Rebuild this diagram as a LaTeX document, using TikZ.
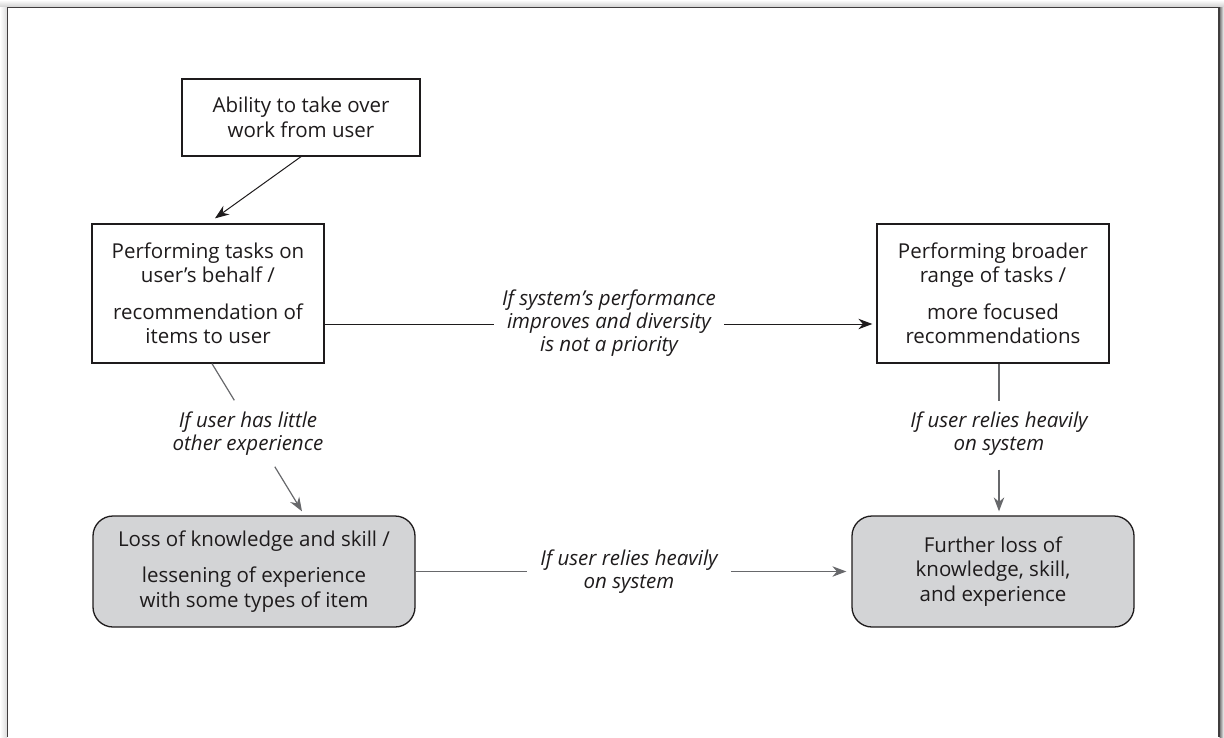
\documentclass[tikz,border=0pt]{standalone}
\usepackage{fontspec}
\setmainfont{Open Sans}
\usetikzlibrary{arrows.meta,calc}
\definecolor{ink}{HTML}{1E1B1C}
\definecolor{wire}{HTML}{67686B}
\definecolor{boxgray}{HTML}{D3D4D6}
\begin{document}
\begin{tikzpicture}[x=1pt,y=-1pt,
  every node/.style={text=ink, font=\fontsize{20.5}{24.5}\selectfont},
  plainbox/.style={draw=ink, line width=1.3pt, fill=white, align=center, inner sep=0pt},
  lossbox/.style={draw=ink, line width=1.3pt, fill=boxgray, rounded corners=20pt, align=center, inner sep=0pt},
  cond/.style={font=\fontsize{20.5}{23}\selectfont\itshape, align=center, inner xsep=8pt, inner ysep=0pt},
  link/.style={draw=ink, line width=1pt},
  softlink/.style={draw=wire, line width=1.2pt},
  tip/.style={-{Stealth[length=14pt,width=10.5pt]}}
]
\useasboundingbox (0,0) rectangle (1224,737);

% page frame with a soft drop shadow
\shade[top color=white, bottom color=black!18] (0,0) rectangle (1224,7);
\shade[left color=white, right color=black!14] (0,7) rectangle (7,737);
\shade[left color=black!55, right color=white] (1219.5,7) rectangle (1224,737);
\draw[ink!85, line width=1.3pt] (7.5,737) -- (7.5,7.5) -- (1219,7.5) -- (1219,737);

% boxes
\node[plainbox, minimum width=238pt, minimum height=77pt] (ability) at (301,117.5)
  {Ability to take over\\work from user};
\node[plainbox, minimum width=232pt, minimum height=139pt] (perf) at (208,293.5)
  {Performing tasks on\\user’s behalf /\\[12pt]recommendation of\\items to user};
\node[plainbox, minimum width=232pt, minimum height=139pt] (broad) at (993,293.5)
  {Performing broader\\range of tasks /\\[12pt]more focused\\recommendations};
\node[lossbox, minimum width=322pt, minimum height=111pt] (loss) at (254,571.5)
  {Loss of knowledge and skill /\\[12pt]lessening of experience\\with some types of item};
\node[lossbox, minimum width=282pt, minimum height=111pt] (further) at (993,571.5)
  {Further loss of\\knowledge, skill,\\and experience};

% condition labels
\node[cond] (condA) at (609,323.5) {If system’s performance\\improves and diversity\\is not a priority};
\node[cond] (condB) at (248,434) {If user has little\\other experience};
\node[cond] (condC) at (999,433.5) {If user relies heavily\\on system};
\node[cond, inner xsep=13pt] (condD) at (629,571.5) {If user relies heavily\\on system};

% anchor points of the connectors
\coordinate (perfin) at ($(perf.north)+(7,-5)$);
\coordinate (perfout) at ($(perf.east)+(0,30.5)$);
\coordinate (perfdown) at ($(perf.south)+(4,0)$);
\coordinate (lossin) at ($(loss.north)+(48,-4)$);
\coordinate (broaddown) at ($(broad.south)+(6,0)$);
\coordinate (furtherin) at ($(further.north)+(6,-4)$);

% connectors
\draw[link, tip] (ability.south) -- (perfin);
\draw[link] (perfout) -- (condA.west |- perfout);
\draw[link, tip] (condA.east |- perfout) -- ($(broad.west |- perfout)+(-4,0)$);
\draw[softlink] (perfdown) -- ($(perfdown)!0.248!(lossin)$);
\draw[softlink, tip] ($(perfdown)!0.698!(lossin)$) -- (lossin);
\draw[softlink] (broaddown) -- ($(broaddown)!0.255!(furtherin)$);
\draw[softlink, tip] ($(broaddown)!0.717!(furtherin)$) -- (furtherin);
\draw[softlink] (loss.east) -- (condD.west |- loss.east);
\draw[softlink, tip] (condD.east |- loss.east) -- ($(further.west)+(-5,0)$);
\end{tikzpicture}
\end{document}
